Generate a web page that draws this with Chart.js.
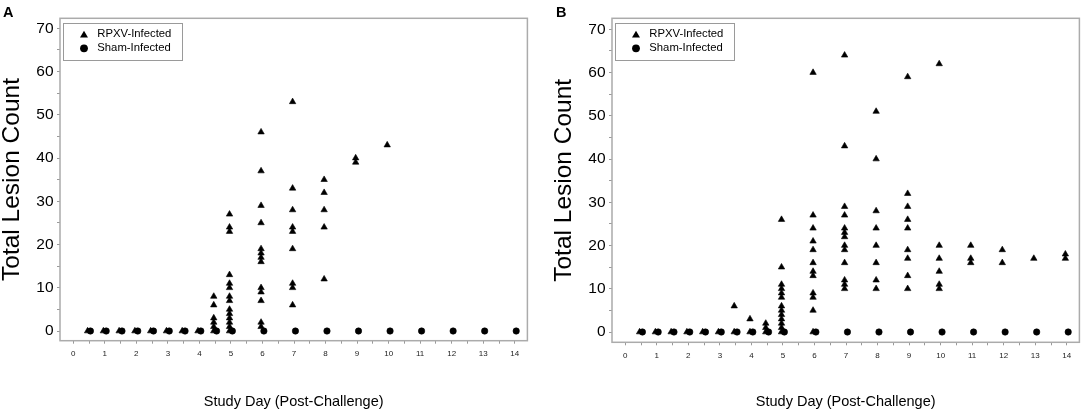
<!DOCTYPE html>
<html><head><meta charset="utf-8">
<script src="https://cdn.jsdelivr.net/npm/chart.js@4.4.1/dist/chart.umd.min.js"></script>
<style>
html,body{margin:0;padding:0;background:#fff;overflow:hidden;}
#wrap{position:relative;width:1084px;height:412px;}
.panel{position:absolute;top:0;height:412px;width:532px;}
.lbl{position:absolute;font:bold 14.5px "Liberation Sans",Arial,sans-serif;line-height:1;color:#000;}
</style></head><body>
<div id="wrap">
  <div class="panel" style="left:0px"><canvas id="cA"></canvas></div>
  <div class="panel" style="left:552px"><canvas id="cB"></canvas></div>
  <div class="lbl" style="left:3px;top:5px">A</div>
  <div class="lbl" style="left:556px;top:5px">B</div>
</div>
<script>
// ---------- DATA ----------
const seriesLabels = ['RPXV-Infected', 'Sham-Infected'];
const xTickValues = [0,0.5,1,1.5,2,2.5,3,3.5,4,4.5,5,5.5,6,6.5,7,7.5,8,8.5,9,9.5,10,10.5,11,11.5,12,12.5,13,13.5,14];
const yTickValues = [0,5,10,15,20,25,30,35,40,45,50,55,60,65,70];

// Panel A
const rpxvDaysA = [0.5,1,1.5,2,2.5,3,3.5,4,4.5,5,6,7,8,9,10];
const rpxvCountsA = [
  [0],[0],[0],[0],[0],[0],[0],[0],
  [8,6,3,2,1,0],
  [27,24,23,13,11,10,8,7,5,4,3,2,1,0],
  [46,37,29,25,19,18,17,16,10,9,7,2,1],
  [53,33,28,24,23,19,11,10,6],
  [35,32,28,24,12],
  [40,39],
  [43]
];
const shamDaysA = [0.5,1,1.5,2,2.5,3,3.5,4,4.5,5,6,7,8,9,10,11,12,13,14];
const shamCountsA = [0,0,0,0,0,0,0,0,0,0,0,0,0,0,0,0,0,0,0];

// Panel B
const rpxvDaysB = [0.5,1,1.5,2,2.5,3,3.5,4,4.5,5,6,7,8,9,10,11,12,13,14];
const rpxvCountsB = [
  [0],[0],[0],[0],[0],[0],
  [6,0],
  [3,0],
  [2,1,0],
  [26,15,11,10,9,8,6,5,4,3,2,1,0],
  [60,27,24,21,19,16,14,13,9,8,5,0],
  [64,43,29,27,24,23,22,20,19,16,12,11,10],
  [51,40,28,24,20,16,12,10],
  [59,32,29,26,24,19,17,13,10],
  [62,20,17,14,11,10],
  [20,17,16],
  [19,16],
  [17],
  [18,17]
];
const shamDaysB = [0.5,1,1.5,2,2.5,3,3.5,4,4.5,5,6,7,8,9,10,11,12,13,14];
const shamCountsB = [0,0,0,0,0,0,0,0,0,0,0,0,0,0,0,0,0,0,0];

// ---------- STYLE ----------
const FONT = "'Liberation Sans', Arial, Helvetica, sans-serif";
const TRI_SHIFT = -0.045, CIRC_SHIFT = 0.045;

const framePlugin = {
  id: 'frame',
  beforeDatasetsDraw(chart) {
    const {ctx, chartArea: a} = chart;
    ctx.save();
    ctx.strokeStyle = '#ababab';
    ctx.lineWidth = 1.5;
    ctx.strokeRect(a.left, a.top, a.right - a.left, a.bottom - a.top);
    ctx.restore();
  }
};

function drawMarker(ctx, style, x, y, r) {
  ctx.beginPath();
  if (style === 'triangle') {
    ctx.moveTo(x, y - r);
    ctx.lineTo(x + r * 0.866, y + r * 0.5);
    ctx.lineTo(x - r * 0.866, y + r * 0.5);
    ctx.closePath();
  } else {
    ctx.arc(x, y, r, 0, Math.PI * 2);
  }
  ctx.fill();
}

const legendPlugin = {
  id: 'boxLegend',
  afterDraw(chart) {
    const {ctx, chartArea: a} = chart;
    const x0 = Math.round(a.left + 2.7) + 0.5, y0 = Math.round(a.top + 5) + 0.5;
    ctx.save();
    ctx.strokeStyle = '#9a9a9a';
    ctx.lineWidth = 1;
    ctx.fillStyle = '#fff';
    ctx.fillRect(x0, y0, 119, 37);
    ctx.strokeRect(x0, y0, 119, 37);
    ctx.font = '11.3px ' + FONT;
    ctx.textBaseline = 'middle';
    ctx.textAlign = 'left';
    chart.data.datasets.forEach((ds, i) => {
      const cy = a.top + 16 + i * 14;
      ctx.fillStyle = '#000';
      drawMarker(ctx, ds.pointStyle, a.left + 24, cy + (ds.pointStyle === 'triangle' ? 1 : 0), ds.pointStyle === 'triangle' ? 4.6 : 3.9);
      ctx.fillText(ds.label, a.left + 37.3, cy);
    });
    ctx.restore();
  }
};

function makeChart(id, rDays, rCounts, sDays, sCounts, geo) {
  const tri = [], circ = [];
  rDays.forEach((d, i) => rCounts[i].forEach(v => tri.push({x: d + TRI_SHIFT, y: v})));
  sDays.forEach((d, i) => circ.push({x: d + CIRC_SHIFT, y: sCounts[i]}));
  return new Chart(document.getElementById(id), {
    type: 'scatter',
    data: {
      datasets: [
        {label: seriesLabels[0], data: tri, pointStyle: 'triangle', pointRadius: 3.7,
         backgroundColor: '#000', borderColor: '#000', borderWidth: 0.6},
        {label: seriesLabels[1], data: circ, pointStyle: 'circle', pointRadius: 3.2,
         backgroundColor: '#000', borderColor: '#000', borderWidth: 0.6}
      ]
    },
    options: {
      responsive: true,
      maintainAspectRatio: false,
      animation: false,
      devicePixelRatio: 1,
      layout: {padding: {top: geo.top, right: geo.right, left: 0, bottom: 0}},
      plugins: {legend: {display: false}, tooltip: {enabled: false}},
      scales: {
        x: {
          type: 'linear', min: -0.42, max: 14.4,
          afterBuildTicks: (s) => { s.ticks = xTickValues.map(v => ({value: v})); },
          afterFit: (s) => { s.height = geo.xh; },
          ticks: {autoSkip: false, maxRotation: 0, padding: 5.5, color: '#222',
                  font: {family: FONT, size: 8},
                  callback: (v) => Number.isInteger(v) ? String(v) : ''},
          grid: {display: true, drawOnChartArea: false, drawTicks: true, tickLength: 3, tickColor: '#9a9a9a', tickWidth: 1},
          border: {display: false},
          title: {display: true, text: 'Study Day (Post-Challenge)', color: '#000',
                  font: {family: FONT, size: 14.5, lineHeight: 1}, padding: {top: 0, bottom: 2.75}}
        },
        y: {
          type: 'linear', min: geo.ymin, max: geo.ymax,
          afterBuildTicks: (s) => { s.ticks = yTickValues.map(v => ({value: v})); },
          afterFit: (s) => { s.width = 60; },
          ticks: {padding: 3.5, color: '#000', font: {family: FONT, size: 15.5},
                  callback: (v) => (v % 10 === 0 ? String(v) : '')},
          grid: {display: true, drawOnChartArea: false, drawTicks: true, tickLength: 3, tickColor: '#9a9a9a', tickWidth: 1},
          border: {display: false},
          title: {display: true, text: 'Total Lesion Count', color: '#000',
                  font: {family: FONT, size: 24.5, lineHeight: 1}, padding: {top: 0, bottom: 0}}
        }
      }
    },
    plugins: [framePlugin, legendPlugin]
  });
}

makeChart('cA', rpxvDaysA, rpxvCountsA, shamDaysA, shamCountsA,
  {top: 18.3, right: 2, xh: 71.3, ymin: -2.24, ymax: 72.31});
makeChart('cB', rpxvDaysB, rpxvCountsB, shamDaysB, shamCountsB,
  {top: 18.3, right: 3.3, xh: 69.7, ymin: -2.38, ymax: 72.54});
</script>
</body></html>
